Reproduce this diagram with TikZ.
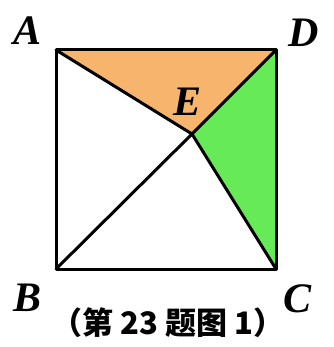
\documentclass[tikz,border=0pt]{standalone}
\usepackage{fontspec}
\setmainfont{Liberation Serif}
\newfontfamily\cjk{Noto Sans CJK SC}
\definecolor{orangefill}{HTML}{F6B46C}
\definecolor{greenfill}{HTML}{66EA58}
\begin{document}
\begin{tikzpicture}[x=1pt,y=-1pt,
  edge/.style={line width=3pt,line join=round,line cap=round},
  vlabel/.style={font=\fontsize{42}{42}\selectfont\bfseries\itshape,inner sep=0pt}]
\useasboundingbox (0,0) rectangle (333,347);
\coordinate (A) at (56,50);
\coordinate (D) at (276,50);
\coordinate (B) at (56,269);
\coordinate (C) at (276,269);
\coordinate (E) at (192,134);
\fill[orangefill] (A) -- (D) -- (E) -- cycle;
\fill[greenfill] (D) -- (C) -- (E) -- cycle;
\draw[edge] (A) -- (D) -- (C) -- (B) -- cycle;
\draw[edge] (A) -- (E) -- (D);
\draw[edge] (B) -- (E) -- (C);
\node[vlabel] (lA) at (28,31) {A};
\node[vlabel] (lD) at (304,33) {D};
\node[vlabel] (lE) at (188,102) {E};
\node[vlabel] (lB) at (28,298) {B};
\node[vlabel] (lC) at (298,299) {C};
\node[font=\cjk\fontsize{31}{31}\selectfont\bfseries,inner sep=0pt] (cap) at (168,323) {（第 23 题图 1）};
\end{tikzpicture}
\end{document}
